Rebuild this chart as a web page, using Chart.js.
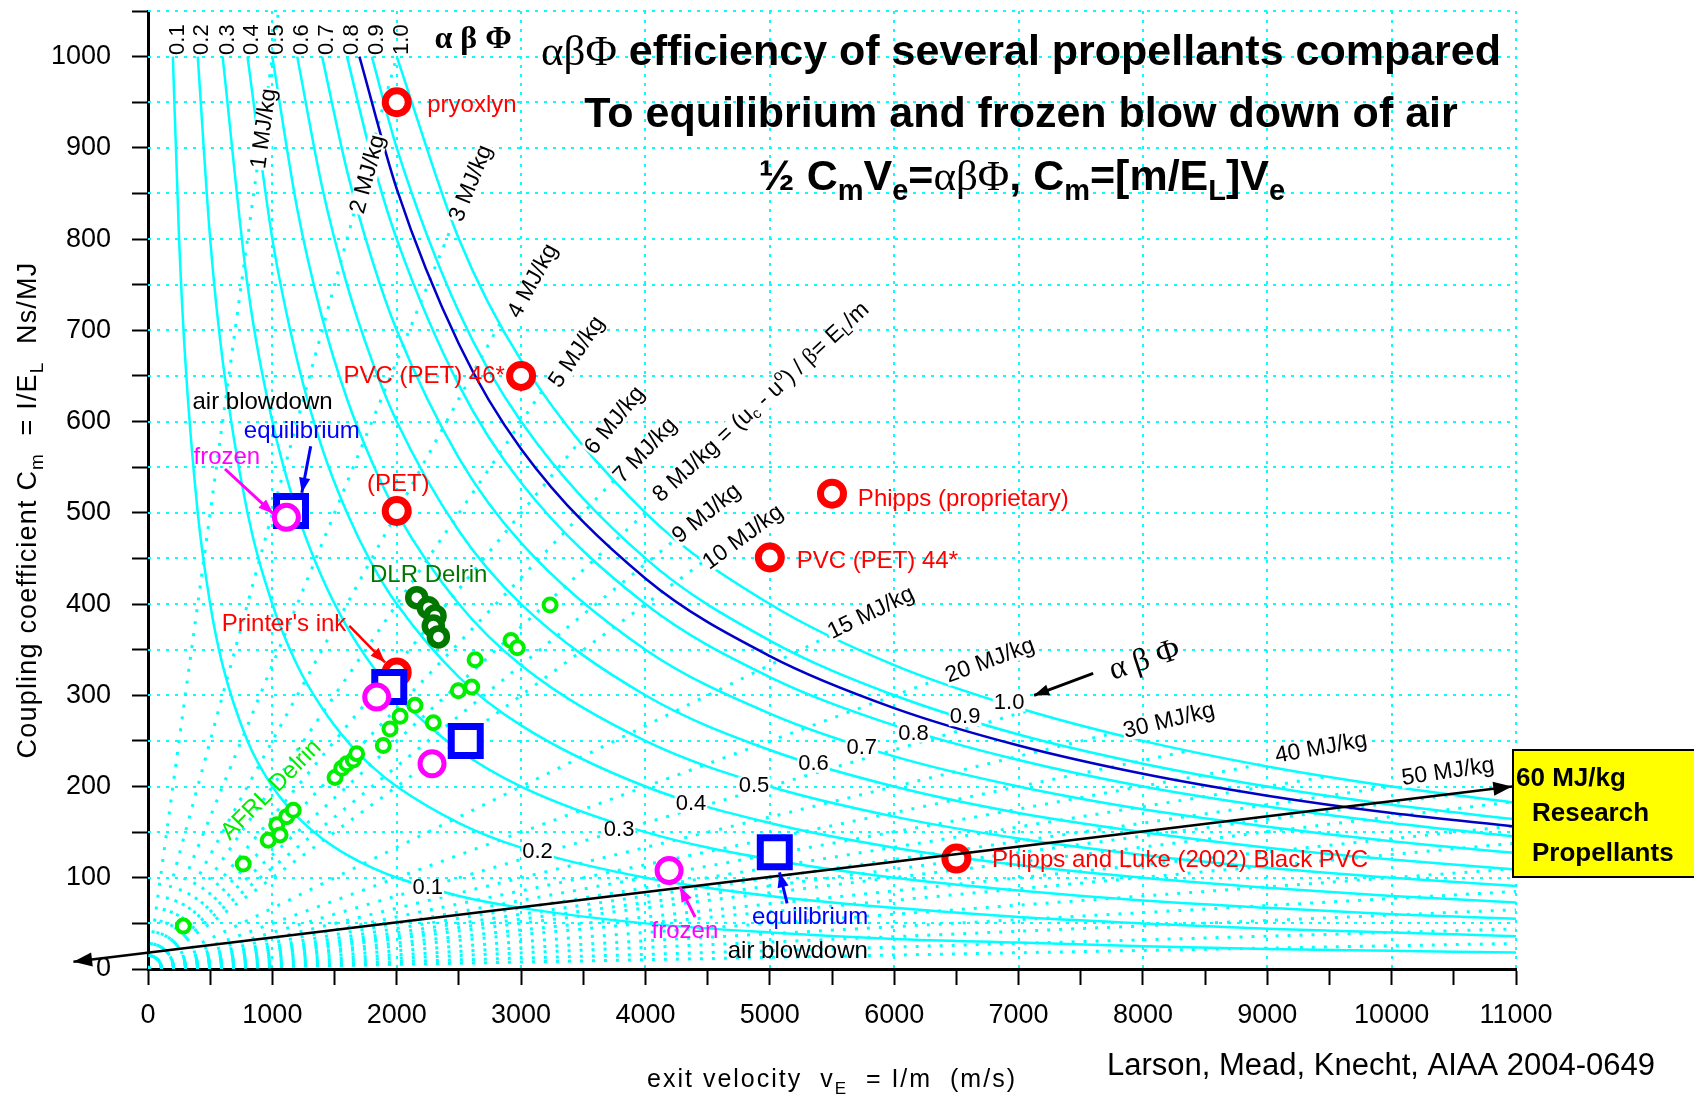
<!DOCTYPE html>
<html>
<head>
<meta charset="utf-8">
<title>Coupling coefficient vs exit velocity</title>
<script src="https://cdn.jsdelivr.net/npm/chart.js@4.4.1/dist/chart.umd.min.js"></script>
<style>
  html, body { margin: 0; padding: 0; background: #fff; }
  #wrap { position: relative; width: 1694px; height: 1094px; }
</style>
</head>
<body>
<div id="wrap"><canvas id="chart" width="1694" height="1094"></canvas></div>
<script>
// ── Data ──────────────────────────────────────────────────────────────────────

// exit velocity knots (m/s) for the constant alpha-beta-phi curves
const veKnots = [200, 250, 300, 400, 500, 600, 800, 1000, 1200, 1400, 1600, 1800, 2000, 2500, 3000, 4000, 5000, 6000, 7000, 8000, 9000, 10000, 11000];
const etaNames = ['0.1', '0.2', '0.3', '0.4', '0.5', '0.6', '0.7', '0.8', '0.9', '1.0'];
const cmEta01 = [1000, 800, 667, 500, 400, 333, 250, 200, 167, 143, 125, 111, 100, 80, 67, 50, 40, 33, 29, 25, 22, 20, 18];
const cmEta02 = [null, null, null, 1000, 800, 667, 500, 400, 333, 286, 250, 222, 200, 160, 133, 100, 80, 67, 57, 50, 44, 40, 36];
const cmEta03 = [null, null, null, null, null, 1000, 750, 600, 500, 429, 375, 333, 300, 240, 200, 150, 120, 100, 86, 75, 67, 60, 55];
const cmEta04 = [null, null, null, null, null, null, 1000, 800, 667, 571, 500, 444, 400, 320, 267, 200, 160, 133, 114, 100, 89, 80, 73];
const cmEta05 = [null, null, null, null, null, null, null, 1000, 833, 714, 625, 556, 500, 400, 333, 250, 200, 167, 143, 125, 111, 100, 91];
const cmEta06 = [null, null, null, null, null, null, null, null, 1000, 857, 750, 667, 600, 480, 400, 300, 240, 200, 171, 150, 133, 120, 109];
const cmEta07 = [null, null, null, null, null, null, null, null, null, 1000, 875, 778, 700, 560, 467, 350, 280, 233, 200, 175, 156, 140, 127];
const cmEta08 = [null, null, null, null, null, null, null, null, null, null, 1000, 889, 800, 640, 533, 400, 320, 267, 229, 200, 178, 160, 145];
const cmEta09 = [null, null, null, null, null, null, null, null, null, null, null, 1000, 900, 720, 600, 450, 360, 300, 257, 225, 200, 180, 164];
const cmEta10 = [null, null, null, null, null, null, null, null, null, null, null, null, 1000, 800, 667, 500, 400, 333, 286, 250, 222, 200, 182];
const etaCurves = [cmEta01, cmEta02, cmEta03, cmEta04, cmEta05, cmEta06, cmEta07, cmEta08, cmEta09, cmEta10];

// dark blue reference curve
const navyVe = [1700, 2000, 2500, 3000, 4000, 5000, 6000, 7000, 8000, 9000, 10000, 11000];
const navyCm = [1000, 855, 685, 570, 428, 343, 286, 245, 214, 190, 171, 156];

// dotted constant E_L/m rays (MJ/kg) from the origin, ending on the 1.0 curve or the right edge
const rayBeta = [1, 2, 3, 4, 5, 6, 7, 8, 9, 10, 15, 20, 25, 30, 35, 40, 45, 50, 55, 60, 70, 80, 100, 130, 170, 250, 400];
const rayEndVe = [1414, 2000, 2449, 2828, 3162, 3464, 3742, 4000, 4243, 4472, 5477, 6325, 7071, 7746, 8367, 8944, 9487, 10000, 10488, 10954, 11000, 11000, 11000, 11000, 11000, 11000, 11000];
const rayEndCm = [1414, 1000, 816, 707, 632, 577, 535, 500, 471, 447, 365, 316, 283, 258, 239, 224, 211, 200, 191, 183, 157, 138, 110, 85, 65, 44, 28];

// 60 MJ/kg research propellants arrow
const arrowVe = [-600, 10968];
const arrowCm = [8, 200];

// measured propellants
const redVe = [2000, 3000, 2000, 5500, 5000, 2000, 6500];
const redCm = [950, 650, 502, 521, 451, 325, 121];
const blueSqVe = [1150, 1940, 2555, 5040];
const blueSqCm = [502, 309, 250, 128];
const frozenVe = [1113, 1839, 2284, 4190];
const frozenCm = [495, 298, 225, 108];
const dlrVe = [2161, 2254, 2308, 2294, 2335];
const dlrCm = [407, 396, 387, 376, 364];
const afrlVe = [284, 766, 967, 1035, 1062, 1115, 1168, 1504, 1558, 1598, 1651, 1678, 1892, 1946, 2027, 2147, 2294, 2495, 2603, 2630, 2919, 2970, 3233];
const afrlCm = [47, 115, 141, 158, 147, 167, 174, 210, 220, 225, 229, 236, 245, 263, 277, 289, 270, 305, 309, 339, 360, 352, 399];

// ── Style ─────────────────────────────────────────────────────────────────────

const SANS = '"Liberation Sans", Arial, Helvetica, sans-serif';
const SERIF = '"Liberation Serif", "Times New Roman", serif';
const CYAN = '#00ffff';
const RED = '#ff0000';
const BLUE = '#0000ff';
const MAGENTA = '#ff00ff';
const DKGREEN = '#007800';
const LTGREEN = '#00ee00';

Chart.defaults.font.family = SANS;

// ── Annotation config (positions in data units) ───────────────────────────────

const etaTopVe = [237, 433, 639, 834, 1035, 1236, 1437, 1638, 1839, 2040];
const etaLowLabels = [
  { ve: 2249, cm: 89 }, { ve: 3132, cm: 128 }, { ve: 3788, cm: 152 }, { ve: 4366, cm: 181 },
  { ve: 4873, cm: 201 }, { ve: 5351, cm: 225 }, { ve: 5739, cm: 242 }, { ve: 6155, cm: 258 },
  { ve: 6570, cm: 276 }, { ve: 6924, cm: 292 },
];
const mjLabels = [
  { t: '1 MJ/kg', b: 1, ve: 933, cm: 921 },
  { t: '2 MJ/kg', b: 2, ve: 1769, cm: 871 },
  { t: '3 MJ/kg', b: 3, ve: 2598, cm: 861 },
  { t: '4 MJ/kg', b: 4, ve: 3096, cm: 754 },
  { t: '5 MJ/kg', b: 5, ve: 3450, cm: 676 },
  { t: '6 MJ/kg', b: 6, ve: 3754, cm: 601 },
  { t: '7 MJ/kg', b: 7, ve: 4000, cm: 568 },
  { t: '9 MJ/kg', b: 9, ve: 4493, cm: 499 },
  { t: '10 MJ/kg', b: 10, ve: 4785, cm: 473 },
  { t: '15 MJ/kg', b: 15, ve: 5814, cm: 390 },
  { t: '20 MJ/kg', b: 20, ve: 6771, cm: 338 },
  { t: '30 MJ/kg', b: 30, ve: 8211, cm: 272 },
  { t: '40 MJ/kg', b: 40, ve: 9433, cm: 242 },
  { t: '50 MJ/kg', b: 50, ve: 10454, cm: 216 },
];
const textLabels = [
  { t: 'pryoxlyn', ve: 2245, cm: 947, align: 'left', color: RED },
  { t: 'PVC (PET) 46*', ve: 2870, cm: 650, align: 'right', color: RED },
  { t: '(PET)', ve: 2012, cm: 531, color: RED },
  { t: 'Phipps (proprietary)', ve: 5708, cm: 515, align: 'left', color: RED },
  { t: 'PVC (PET) 44*', ve: 5216, cm: 447, align: 'left', color: RED },
  { t: 'Phipps and Luke (2002) Black PVC', ve: 6786, cm: 119, align: 'left', color: RED },
  { t: 'DLR Delrin', ve: 2257, cm: 431, color: DKGREEN },
  { t: "Printer's ink", ve: 1094, cm: 378, color: RED },
  { t: 'air blowdown', ve: 921, cm: 621, color: '#000' },
  { t: 'equilibrium', ve: 1237, cm: 589, color: BLUE },
  { t: 'frozen', ve: 634, cm: 561, color: MAGENTA },
  { t: 'AFRL Delrin', ve: 992, cm: 196, color: LTGREEN, rot: -45 },
  { t: 'frozen', ve: 4317, cm: 41, color: MAGENTA },
  { t: 'equilibrium', ve: 5324, cm: 57, color: BLUE },
  { t: 'air blowdown', ve: 5225, cm: 19, color: '#000' },
];
const pointerArrows = [
  { from: [1619, 376], to: [1906, 336], color: RED, w: 2.5 },
  { from: [1308, 573], to: [1237, 522], color: BLUE, w: 3 },
  { from: [619, 548], to: [1007, 499], color: MAGENTA, w: 3 },
  { from: [4399, 57], to: [4277, 90], color: MAGENTA, w: 3 },
  { from: [5139, 72], to: [5078, 106], color: BLUE, w: 3 },
  { from: [7600, 324], to: [7125, 300], color: '#000', w: 3 },
];

// ── Drawing helpers ───────────────────────────────────────────────────────────

function drawRuns(ctx, runs, x, y, o = {}) {
  ctx.save();
  ctx.translate(x, y);
  if (o.rot) ctx.rotate(o.rot * Math.PI / 180);
  ctx.textAlign = 'left';
  ctx.textBaseline = o.baseline || 'alphabetic';
  if ('letterSpacing' in ctx) ctx.letterSpacing = o.ls || '0px';
  let total = 0;
  runs.forEach(r => { ctx.font = r.font; r.w = ctx.measureText(r.t).width; total += r.w; });
  let cx = o.align === 'center' ? -total / 2 : o.align === 'right' ? -total : 0;
  if (o.bg) {
    ctx.fillStyle = '#fff';
    ctx.fillRect(cx - 1, -o.bg / 2, total + 2, o.bg);
  }
  ctx.fillStyle = o.color || '#000';
  runs.forEach(r => { ctx.font = r.font; ctx.fillText(r.t, cx, r.dy || 0); cx += r.w; });
  ctx.restore();
}

function arrow(ctx, x0, y0, x1, y1, color, lw, head, both) {
  ctx.save();
  ctx.strokeStyle = color;
  ctx.fillStyle = color;
  ctx.lineWidth = lw;
  ctx.setLineDash([]);
  ctx.beginPath();
  ctx.moveTo(x0, y0);
  ctx.lineTo(x1, y1);
  ctx.stroke();
  const tip = (xa, ya, xb, yb) => {
    const a = Math.atan2(yb - ya, xb - xa);
    ctx.beginPath();
    ctx.moveTo(xb, yb);
    ctx.lineTo(xb - head * Math.cos(a - 0.36), yb - head * Math.sin(a - 0.36));
    ctx.lineTo(xb - head * Math.cos(a + 0.36), yb - head * Math.sin(a + 0.36));
    ctx.closePath();
    ctx.fill();
  };
  tip(x0, y0, x1, y1);
  if (both) tip(x1, y1, x0, y0);
  ctx.restore();
}

function drawGrid(chart) {
  const { ctx, chartArea: a, scales: { x, y } } = chart;
  ctx.save();
  ctx.strokeStyle = CYAN;
  ctx.lineWidth = 2;
  ctx.setLineDash([3, 6]);
  y.ticks.forEach(t => {
    if (t.value <= 0) return;
    const py = Math.round(y.getPixelForValue(t.value));
    ctx.beginPath(); ctx.moveTo(a.left, py); ctx.lineTo(a.right, py); ctx.stroke();
  });
  x.ticks.forEach(t => {
    if (t.value <= 0 || t.value % 1000) return;
    const px = Math.round(x.getPixelForValue(t.value));
    ctx.beginPath(); ctx.moveTo(px, a.top); ctx.lineTo(px, a.bottom); ctx.stroke();
  });
  ctx.restore();
}

function rayAngle(x, y, beta) {
  const dx = x.getPixelForValue(1000) - x.getPixelForValue(0);
  const dy = y.getPixelForValue(1000 / beta) - y.getPixelForValue(0);
  return Math.atan2(dy, dx) * 180 / Math.PI;
}

function drawCurveLabels(chart) {
  const { ctx, scales: { x, y } } = chart;
  const f22 = `22px ${SANS}`;
  const f23 = `23px ${SANS}`;
  const f15 = `15px ${SANS}`;

  // alpha-beta-phi values along the top, rotated
  etaTopVe.forEach((v, i) => {
    drawRuns(ctx, [{ t: etaNames[i], font: f22 }], x.getPixelForValue(v), y.getPixelForValue(1018.6),
      { align: 'center', baseline: 'middle', rot: -90 });
  });
  drawRuns(ctx, [{ t: 'α β Φ', font: `bold 32px ${SERIF}` }], x.getPixelForValue(2614), y.getPixelForValue(1018.6),
    { align: 'center', baseline: 'middle' });

  // alpha-beta-phi values on the curves
  etaLowLabels.forEach((l, i) => {
    drawRuns(ctx, [{ t: etaNames[i], font: f22 }], x.getPixelForValue(l.ve), y.getPixelForValue(l.cm),
      { align: 'center', baseline: 'middle', bg: 18 });
  });

  // MJ/kg labels along the rays
  mjLabels.forEach(l => {
    drawRuns(ctx, [{ t: l.t, font: f23 }], x.getPixelForValue(l.ve), y.getPixelForValue(l.cm),
      { align: 'center', baseline: 'middle', rot: rayAngle(x, y, l.b), bg: 20 });
  });
  drawRuns(ctx, [
    { t: '8 MJ/kg = (u', font: f23 }, { t: 'c', font: f15, dy: 6 }, { t: ' - u', font: f23 },
    { t: 'o', font: f15, dy: -8 }, { t: ') / ', font: f23 }, { t: 'β', font: `23px ${SERIF}` },
    { t: '= E', font: f23 }, { t: 'L', font: f15, dy: 6 }, { t: '/m', font: f23 },
  ], x.getPixelForValue(4930), y.getPixelForValue(621),
    { align: 'center', baseline: 'middle', rot: rayAngle(x, y, 8), bg: 20 });
}

function drawOverlay(chart) {
  const { ctx, scales: { x, y } } = chart;
  const f24 = `24px ${SANS}`;

  arrow(ctx, x.getPixelForValue(arrowVe[0]), y.getPixelForValue(arrowCm[0]),
    x.getPixelForValue(arrowVe[1]), y.getPixelForValue(arrowCm[1]), '#000', 2.5, 20, true);

  pointerArrows.forEach(a => {
    arrow(ctx, x.getPixelForValue(a.from[0]), y.getPixelForValue(a.from[1]),
      x.getPixelForValue(a.to[0]), y.getPixelForValue(a.to[1]), a.color, a.w, 16, false);
  });

  textLabels.forEach(l => {
    drawRuns(ctx, [{ t: l.t, font: f24 }], x.getPixelForValue(l.ve), y.getPixelForValue(l.cm),
      { align: l.align || 'center', baseline: 'middle', color: l.color, rot: l.rot || 0 });
  });

  drawRuns(ctx, [{ t: 'α β Φ', font: `32px ${SERIF}` }], x.getPixelForValue(8014), y.getPixelForValue(338),
    { align: 'center', baseline: 'middle', rot: -18 });
}

function drawOutside(chart) {
  const { ctx, chartArea: a } = chart;
  const B42 = `bold 43px ${SANS}`;
  const S29 = `bold 29px ${SANS}`;
  const SER = `43px ${SERIF}`;

  // title
  drawRuns(ctx, [{ t: 'αβΦ', font: SER }, { t: ' efficiency of several propellants compared', font: B42 }], 1021, 65, { align: 'center' });
  drawRuns(ctx, [{ t: 'To equilibrium and frozen blow down of air', font: B42 }], 1021, 127, { align: 'center' });
  drawRuns(ctx, [
    { t: '½ C', font: B42 }, { t: 'm', font: S29, dy: 10 }, { t: 'V', font: B42 }, { t: 'e', font: S29, dy: 10 },
    { t: '=', font: B42 }, { t: 'αβΦ', font: SER }, { t: ', C', font: B42 }, { t: 'm', font: S29, dy: 10 },
    { t: '=[m/E', font: B42 }, { t: 'L', font: S29, dy: 10 }, { t: ']V', font: B42 }, { t: 'e', font: S29, dy: 10 },
  ], 1022, 190, { align: 'center' });

  // axis titles
  const f27 = `27px ${SANS}`;
  const f19 = `19px ${SANS}`;
  drawRuns(ctx, [
    { t: 'Coupling coefficient C', font: f27 }, { t: 'm', font: f19, dy: 7 },
    { t: '  = I/E', font: f27 }, { t: 'L', font: f19, dy: 7 }, { t: '  Ns/MJ', font: f27 },
  ], 36, 510, { align: 'center', rot: -90, ls: '1.2px' });
  drawRuns(ctx, [
    { t: 'exit velocity  v', font: `25px ${SANS}` }, { t: 'E', font: `17px ${SANS}`, dy: 7 },
    { t: '  = I/m  (m/s)', font: `25px ${SANS}` },
  ], 832, 1087, { align: 'center', ls: '2px' });

  // credit
  drawRuns(ctx, [{ t: 'Larson, Mead, Knecht, AIAA 2004-0649', font: `31px ${SANS}` }], 1381, 1075, { align: 'center' });

  // research propellants box
  const bx = a.right - 3;
  ctx.save();
  ctx.fillStyle = '#ffff00';
  ctx.strokeStyle = '#000';
  ctx.lineWidth = 2;
  ctx.fillRect(bx, 750, 1694 - bx + 2, 127);
  ctx.strokeRect(bx, 750, 1694 - bx + 2, 127);
  ctx.restore();
  const B26 = `bold 26px ${SANS}`;
  drawRuns(ctx, [{ t: '60 MJ/kg', font: B26 }], bx + 3, 779, { baseline: 'middle' });
  drawRuns(ctx, [{ t: 'Research', font: B26 }], bx + 19, 814, { baseline: 'middle' });
  drawRuns(ctx, [{ t: 'Propellants', font: B26 }], bx + 19, 854, { baseline: 'middle' });
}

const decor = {
  id: 'decor',
  beforeDatasetsDraw(chart) { drawGrid(chart); },
  afterDatasetDraw(chart, args) {
    if (chart.data.datasets[args.index].id === 'navy') drawCurveLabels(chart);
  },
  afterDatasetsDraw(chart) { drawOverlay(chart); },
  afterDraw(chart) { drawOutside(chart); },
};

// ── Datasets ──────────────────────────────────────────────────────────────────

function pts(xs, ys) { return xs.map((v, i) => ({ x: v, y: ys[i] })); }

const rayDatasets = rayBeta.map((b, i) => ({
  label: b + ' MJ/kg',
  data: [{ x: 0, y: 0 }, { x: rayEndVe[i], y: rayEndCm[i] }],
  showLine: true,
  borderColor: CYAN,
  borderWidth: 3,
  borderDash: [3, 9],
  pointRadius: 0,
  order: 10,
}));

const etaDatasets = etaCurves.map((arr, i) => ({
  label: 'αβΦ ' + etaNames[i],
  data: veKnots.map((v, k) => ({ x: v, y: arr[k] })).filter(p => p.y !== null),
  showLine: true,
  borderColor: CYAN,
  borderWidth: 2.5,
  pointRadius: 0,
  cubicInterpolationMode: 'monotone',
  order: 6,
}));

function markerSet(label, xs, ys, color, style, r, bw, order) {
  return {
    label, data: pts(xs, ys), order,
    pointStyle: style, pointRadius: r, pointHoverRadius: r,
    pointBorderWidth: bw, pointBorderColor: color, pointBackgroundColor: '#fff',
  };
}

const datasets = [
  ...rayDatasets,
  ...etaDatasets,
  {
    id: 'navy', label: 'reference', data: pts(navyVe, navyCm), showLine: true,
    borderColor: '#0000c8', borderWidth: 2.5, pointRadius: 0, cubicInterpolationMode: 'monotone', order: 5,
  },
  markerSet('propellants', redVe, redCm, RED, 'circle', 11.5, 7, 4),
  markerSet('air equilibrium', blueSqVe, blueSqCm, BLUE, 'rect', 20.5, 7, 3),
  markerSet('AFRL Delrin', afrlVe, afrlCm, LTGREEN, 'circle', 6.5, 4, 2),
  markerSet('DLR Delrin', dlrVe, dlrCm, DKGREEN, 'circle', 8.5, 6.5, 1),
  markerSet('air frozen', frozenVe, frozenCm, MAGENTA, 'circle', 12, 5, 0),
];

// ── Chart ─────────────────────────────────────────────────────────────────────

new Chart(document.getElementById('chart'), {
  type: 'scatter',
  data: { datasets },
  plugins: [decor],
  options: {
    responsive: false,
    animation: false,
    devicePixelRatio: 1,
    layout: { autoPadding: false, padding: { top: 11, right: 178, bottom: 0, left: 0 } },
    plugins: { legend: { display: false }, tooltip: { enabled: false } },
    events: [],
    scales: {
      x: {
        type: 'linear', min: 0, max: 11000,
        ticks: {
          stepSize: 500, autoSkip: false, maxRotation: 0, color: '#000', padding: 14,
          font: { family: SANS, size: 27 },
          callback: v => (v % 1000 === 0 ? String(v) : ''),
        },
        grid: { display: true, drawOnChartArea: false, drawTicks: true, tickLength: 16, tickColor: '#000', tickWidth: 2 },
        border: { display: true, color: '#000', width: 3 },
        afterFit: s => { s.height = 125; s.paddingLeft = 0; s.paddingRight = 0; },
      },
      y: {
        type: 'linear', min: 0, max: 1050,
        ticks: {
          stepSize: 50, autoSkip: false, color: '#000', padding: 21,
          font: { family: SANS, size: 27 },
          callback: v => (v % 100 === 0 ? String(v) : ''),
        },
        grid: { display: true, drawOnChartArea: false, drawTicks: true, tickLength: 16, tickColor: '#000', tickWidth: 2 },
        border: { display: true, color: '#000', width: 3 },
        afterFit: s => { s.width = 148; s.paddingTop = 0; s.paddingBottom = 0; },
      },
    },
  },
});
</script>
</body>
</html>
